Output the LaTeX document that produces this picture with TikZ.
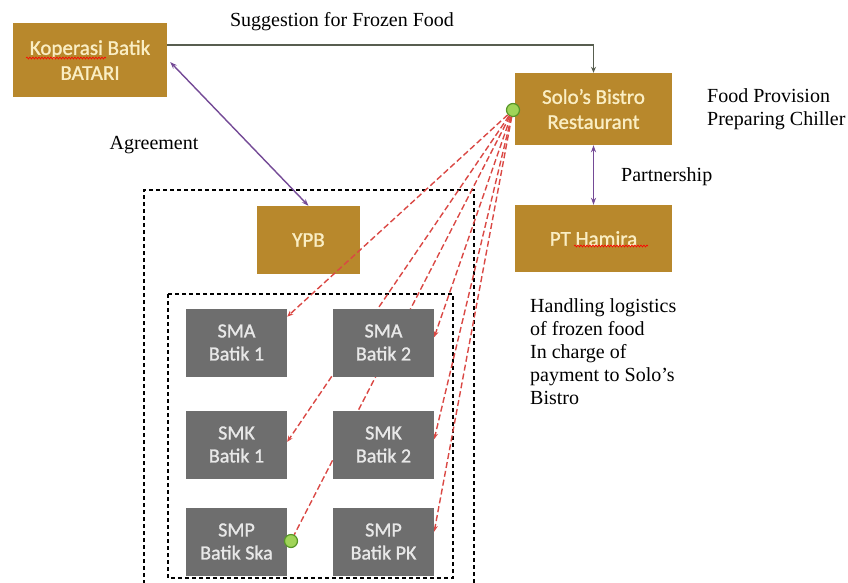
\documentclass[tikz,border=0pt]{standalone}
\usepackage{fontspec}
\setmainfont{Liberation Serif}
\newfontface\boxfont{Carlito}[FakeBold=1.2]
\usetikzlibrary{arrows.meta}
\usetikzlibrary{decorations.pathmorphing}
\definecolor{batikgold}{RGB}{184,136,44}
\definecolor{goldtext}{RGB}{250,238,196}
\definecolor{schoolgrey}{RGB}{110,110,110}
\definecolor{greytext}{RGB}{232,232,232}
\definecolor{linkpurple}{RGB}{116,74,150}
\definecolor{orderred}{RGB}{218,72,68}
\definecolor{dotgreen}{RGB}{160,212,88}
\definecolor{dotrim}{RGB}{86,150,40}
\definecolor{topline}{RGB}{88,94,80}
\pgfdeclarelayer{front}
\pgfsetlayers{main,front}

\begin{document}
\begin{tikzpicture}[x=1pt,y=-1pt]

	\tikzset{goldbox/.style={fill=batikgold, text=goldtext, font=\boxfont\fontsize{21}{25}\selectfont, align=center, inner sep=0pt, minimum width=157pt, minimum height=72pt}}
	\tikzset{schoolbox/.style={fill=schoolgrey, text=greytext, font=\boxfont\fontsize{20}{23}\selectfont, align=center, inner sep=0pt, minimum width=101pt, minimum height=68pt}}
	\tikzset{note/.style={font=\fontsize{20}{23}\selectfont, inner sep=0pt, align=left}}
	\tikzset{order/.style={orderred, line width=1.4pt, dash pattern=on 6pt off 3pt, -{Stealth[length=6pt,width=5pt]}}}
	\tikzset{deal/.style={linkpurple, line width=1.4pt, {Stealth[length=7pt,width=5pt]}-{Stealth[length=7pt,width=5pt]}}}
	\tikzset{dot/.style={circle, fill=dotgreen, draw=dotrim, line width=1.2pt, minimum size=13pt, inner sep=0pt}}
	\tikzset{frame/.style={line width=1.2pt, dash pattern=on 4pt off 3pt}}
	\tikzset{typo it/.style={red, line width=0.6pt, decorate, decoration={snake, amplitude=1pt, segment length=3pt}}}

	\useasboundingbox (0,0) rectangle (848,582);

	% foundation and schools frames
	\draw[frame] (144,584) |- (474,190) -- (474,584);
	\draw[frame] (168,294) rectangle (453,578);

	% partners
	\node[goldbox, minimum width=154pt, minimum height=74pt] (kop) at (90,60) {Koperasi Batik\\BATARI};
	\node[goldbox] (solo) at (593.5,109) {Solo’s Bistro\\Restaurant};
	\node[goldbox, minimum height=67pt] (hamira) at (593.5,238.5) {PT Hamira};
	\node[goldbox, minimum width=103pt, minimum height=68pt] (ypb) at (308.5,240) {YPB};

	% spelling marks
	\draw[typo it] (26,58) -- (106,58);
	\draw[typo it] (574,246) -- (648,246);

	% schools
	\begin{pgfonlayer}{front}
	\node[schoolbox] (smaA) at (236.5,342.5) {SMA\\Batik 1};
	\node[schoolbox] (smaB) at (383.5,342.5) {SMA\\Batik 2};
	\node[schoolbox] (smkA) at (236.5,444.5) {SMK\\Batik 1};
	\node[schoolbox] (smkB) at (383.5,444.5) {SMK\\Batik 2};
	\node[schoolbox] (smpA) at (236.5,541.5) {SMP\\Batik Ska};
	\node[schoolbox] (smpB) at (383.5,541.5) {SMP\\Batik PK};
	\node[dot] (dotB) at (291,541) {};
	\end{pgfonlayer}

	\node[dot] (dotA) at (513,110) {};

	% links
	\draw[topline, line width=1.2pt, -{Stealth[length=6pt,width=5pt]}] ([yshift=15pt]kop.east) -| (solo.north);
	\node[note] (suggest) at (342,22) {Suggestion for Frozen Food};

	\draw[deal] ([xshift=3pt,yshift=-2pt]kop.east) -- (ypb.north);
	\node[note] (agree) at (154,145) {Agreement};

	\draw[deal] (solo.south) -- (hamira.north);
	\node[note, anchor=west] (partner) at (621,177) {Partnership};

	% frozen food deliveries
	\draw[order] (dotA) -- (smaA.27);
	\draw[order] (dotA) -- (smaB.6);
	\draw[order] (dotA) -- (smkA.3);
	\draw[order] (dotA) -- (smkB.6);
	\draw[order] (dotA) -- (smpB.11);
	\draw[order, -] (dotA) -- (dotB);

	% roles
	\node[note, anchor=north west] (roleSolo) at (707,88) {Food Provision\\Preparing Chiller};
	\node[note, anchor=north west] (roleHamira) at (530,298) {Handling logistics\\of frozen food\\In charge of\\payment to Solo’s\\Bistro};

\end{tikzpicture}
\end{document}
